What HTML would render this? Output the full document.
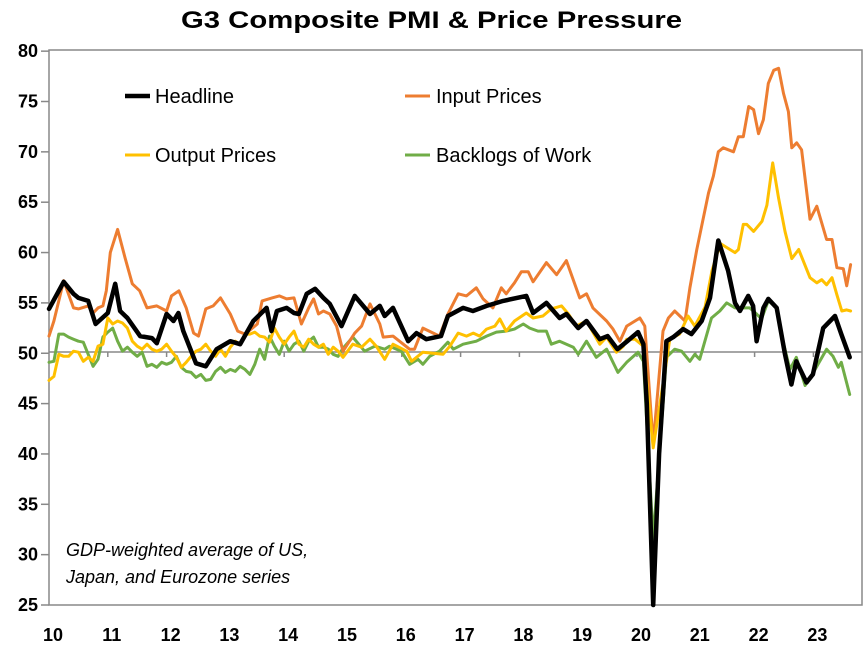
<!DOCTYPE html>
<html><head><meta charset="utf-8"><style>
body{margin:0;background:#fff;}
svg{display:block;font-family:"Liberation Sans",Arial,sans-serif;}
</style></head><body>
<svg id="s" width="868" height="646" viewBox="0 0 868 646">
<rect x="0" y="0" width="868" height="646" fill="#fff"/>
<text x="181" y="28" font-size="24" font-weight="bold" textLength="501" lengthAdjust="spacingAndGlyphs">G3 Composite PMI &amp; Price Pressure</text>
<g id="axes" stroke="#888" stroke-width="1.5" fill="none">
<rect x="49" y="50" width="813" height="555"/>
<line x1="49" y1="352" x2="862" y2="352"/>
</g>
<g id="ylab" font-size="18" font-weight="bold" text-anchor="end"></g>
<g id="xlab" font-size="18" font-weight="bold" text-anchor="middle"></g>
<g id="lines" fill="none" stroke-linejoin="round" stroke-linecap="round"></g>
<g font-size="20">
<line x1="125" y1="96" x2="150" y2="96" stroke="#000" stroke-width="4.5"/><text x="155" y="103">Headline</text>
<line x1="405" y1="96" x2="430" y2="96" stroke="#ED7D31" stroke-width="3"/><text x="436" y="103">Input Prices</text>
<line x1="125" y1="155" x2="150" y2="155" stroke="#FFC000" stroke-width="3"/><text x="155" y="162">Output Prices</text>
<line x1="405" y1="155" x2="430" y2="155" stroke="#70AD47" stroke-width="3"/><text x="436" y="162">Backlogs of Work</text>
</g>
<g font-size="18" font-style="italic">
<text x="66" y="556">GDP-weighted average of US,</text>
<text x="66" y="583">Japan, and Eurozone series</text>
</g>
</svg>
<script>
var NS="http://www.w3.org/2000/svg";
function X(m){return 49+4.9*m;}
function Y(v){return 605-(v-25)*10.07;}
function el(t,a,p,txt){var e=document.createElementNS(NS,t);for(var k in a)e.setAttribute(k,a[k]);if(txt!==undefined)e.textContent=txt;p.appendChild(e);return e;}
var ax=document.getElementById('axes'),yl=document.getElementById('ylab'),xl=document.getElementById('xlab');
for(var v=25;v<=80;v+=5){var y=Y(v);el('line',{x1:41,y1:y,x2:49,y2:y},ax);el('text',{x:38,y:y+6},yl,String(v));}
for(var i=0;i<14;i++){var x=X(i*12);if(i>0)el('line',{x1:x,y1:352,x2:x,y2:357},ax);el('text',{x:x+4,y:641},xl,String(10+i));}
var H=[[0,54.4],[3,57.1],[5,55.9],[6,55.5],[8,55.2],[9.5,52.9],[12,54],[13.5,56.9],[14.5,54.2],[16,53.5],[18.6,51.7],[21,51.5],[22,51],[24,53.9],[25.4,53.2],[26.4,54],[27.4,52.2],[30,49],[32,48.7],[34.2,50.4],[37,51.2],[39,50.9],[41.7,53.2],[44.4,54.5],[45.4,52.2],[46.5,54.2],[48.5,54.5],[50,54],[51,53.9],[52.6,55.9],[54.3,56.4],[56,55.5],[57.3,54.9],[59.7,52.7],[62.4,55.7],[65.5,53.9],[67.5,54.7],[68.5,53.7],[70.2,54.5],[73.3,51.2],[75,52],[77,51.4],[80,51.7],[81.4,53.7],[84.5,54.5],[86.5,54.2],[89.3,54.7],[92.7,55.2],[97.4,55.7],[98.8,54],[101.5,55],[104.2,53.5],[105.6,53.9],[108,52.5],[109.7,53.2],[112.4,51.4],[114,51.7],[116,50.4],[118,51.2],[120.2,52.1],[121.3,50.9],[122,45],[123.3,24.3],[124.5,40],[126,51.2],[127.4,51.6],[129.4,52.4],[131.1,51.9],[133.2,53.2],[134.9,55.5],[136.6,61.2],[138.6,58.2],[140,55],[141,54.2],[142.7,55.7],[143.7,54.7],[144.4,51.2],[145.8,54.5],[146.8,55.4],[148.5,54.5],[150.2,49.9],[151.5,46.9],[152.5,49.2],[154.6,47.1],[155.9,47.9],[158,52.5],[160.4,53.7],[161.7,51.9],[163.4,49.6]];
var O=[[0,51.7],[1,53.2],[3,57.2],[5,54.5],[6,54.4],[8,54.7],[9,54],[10,54.5],[11,54.7],[11.7,56.2],[12.5,60],[14,62.3],[15.5,59.5],[17,56.9],[18.5,56.2],[20,54.5],[22,54.7],[24,54.2],[25,55.7],[26.5,56.2],[28,54.5],[29.5,52],[30.5,51.7],[32,54.4],[33.5,54.7],[35,55.5],[37,53.9],[38.5,52.2],[40,51.9],[41.5,52.5],[42.5,52.9],[43.5,55.2],[45.5,55.5],[47,55.7],[48.5,55.4],[50,55.5],[51.5,52.9],[53,54.5],[54,55.4],[55,53.9],[56,54.2],[57.3,53.9],[58.7,52.7],[60,50.2],[62.4,52],[63.8,52.7],[65.5,54.9],[67.5,52.9],[68.2,51.6],[70.2,51.7],[73.6,50.4],[74.6,50.4],[76.3,52.5],[79.7,51.7],[81.4,53.9],[83.5,55.9],[85.2,55.7],[87.2,56.5],[88.6,55.4],[90.6,54.5],[92.3,56.5],[93.3,55.9],[95,57],[96.4,58.1],[97.8,58.1],[98.8,57.1],[101.5,59],[103.6,57.8],[105.6,59.2],[108.3,55.5],[109.7,55.9],[111,54.5],[113.8,53.2],[115.1,52.4],[116.5,51.2],[117.9,52.7],[120.6,53.5],[121.6,52.7],[123.3,41],[125.3,52.2],[126.4,53.5],[127.7,54.2],[129.8,53.2],[130.8,56.5],[132.2,60.3],[134.6,65.9],[135.6,67.6],[136.6,70],[137.6,70.4],[139.7,70],[140.7,71.5],[141.7,71.5],[142.8,74.5],[143.8,74.2],[144.8,71.8],[145.8,73.2],[146.8,76.8],[147.9,78.1],[148.9,78.3],[149.9,75.8],[150.9,74],[151.6,70.4],[152.6,70.9],[153.6,70.2],[155.3,63.3],[156.7,64.6],[158.7,61.3],[159.8,61.3],[160.8,58.5],[162.1,58.4],[162.8,56.7],[163.6,58.8]];
var Yv=[47.3,47.7,49.9,49.7,49.7,50.2,50.1,49.2,49.6,49.2,50.7,50.9,53.5,52.9,53.2,53,52.5,51.2,50.7,50.4,50.9,50.4,50.2,50.4,50.9,50.2,49.6,48.6,49.1,49.7,50.2,50.4,50.9,50.2,49.7,50.4,49.7,50.6,51.2,50.9,51.9,51.9,52.1,51.7,51.6,51.1,52.5,51.6,50.9,51.6,52.2,50.9,50.6,51.4,50.9,50.6,50.9,49.9,50.6,50.2];
var Yp=Yv.map(function(v,i){return [i,v];}).concat([[60,49.6],[62,50.9],[63.8,50.6],[65.5,51.4],[66.8,50.7],[68.5,49.4],[70.2,50.9],[73,50.2],[74,49.2],[76.3,50.1],[80.4,49.9],[81.8,50.7],[83.5,52],[85.2,51.7],[86.6,52],[87.9,51.7],[89.3,52.4],[91,52.7],[92,53.4],[93.3,52.2],[95,53.2],[97.4,54],[98.8,53.5],[100.8,53.7],[102.5,54.4],[104.6,54.7],[106,53.9],[107.6,52.7],[109.7,53.2],[112.4,50.9],[113.8,51.6],[115.8,50.1],[117.2,50.7],[117.9,51.4],[119.6,51.4],[121.3,50.7],[123.3,40.6],[126.7,51.4],[128.7,51.9],[130.4,53.7],[131.8,52.7],[133.9,54.6],[135.3,58.2],[137,60.9],[138.3,60.5],[140,60],[140.7,60.3],[141.7,62.8],[142.4,62.8],[143.8,62.1],[145.5,63.1],[146.5,64.7],[147.7,68.9],[148.9,65.4],[150.2,62.1],[151.6,59.4],[153,60.3],[155.3,57.5],[156.7,57],[157.7,57.3],[158.7,56.8],[159.8,57.5],[160.8,55.8],[161.8,54.2],[162.8,54.3],[163.6,54.2]]);
var Gv=[49.1,49.2,51.9,51.9,51.6,51.4,51.2,51.1,49.9,48.7,49.4,51.6,52.1,52.5,51.2,50.2,50.6,50.1,49.7,50.1,48.7,48.9,48.6,49.1,48.9,49.1,49.7,48.6,48.2,48.1,47.6,47.9,47.3,47.4,48.2,48.6,48.1,48.4,48.2,48.7,48.4,47.9,48.9,50.4,49.4,51.7,50.7,49.9,51.2,50.2,50.9,51.2,50.2,51.2,51.6,50.6,50.6,50.4,49.9,49.7];
var G=Gv.map(function(v,i){return [i,v];}).concat([[60,50.5],[62,51.6],[64.4,50.2],[66.5,50.7],[68.5,50.4],[69.5,50.7],[71.9,50.2],[73.6,48.9],[75.3,49.4],[76.3,48.9],[77.7,49.7],[79.7,50.2],[81.4,51.1],[82.5,50.4],[84.5,50.9],[87.2,51.2],[89.3,51.7],[91.3,52.1],[93.3,52.2],[95,52.4],[96.8,52.9],[98.1,52.5],[99.8,52.2],[101.5,52.2],[102.5,50.9],[104.2,51.2],[107,50.6],[108,49.9],[109.7,51.2],[111.7,49.6],[113.8,50.4],[116.1,48.1],[117.9,49.1],[120.2,50.1],[121.3,49.2],[123.3,31.5],[126,49.6],[127.7,50.4],[129.1,50.2],[130.8,49.2],[131.8,49.9],[132.8,49.4],[135.2,53.5],[136.9,54.2],[138.3,55],[140,54.5],[143,54.5],[144.4,53.9],[145.4,53.4],[146.8,55.2],[148.5,54.5],[149.8,51.2],[151.2,48.4],[152.5,49.6],[154.3,46.8],[156,48.1],[158.7,50.4],[160,49.7],[161.1,48.6],[161.7,49.1],[163.4,45.9]]);
var L=document.getElementById('lines');
function draw(pts,c,w){var d=pts.map(function(p,i){return (i?'L':'M')+X(p[0]).toFixed(1)+' '+Math.min(605,Y(p[1])).toFixed(1);}).join(' ');el('path',{d:d,stroke:c,'stroke-width':w},L);}
draw(G,'#70AD47',3);draw(O,'#ED7D31',3);draw(Yp,'#FFC000',3);draw(H,'#000',4.5);
</script>
</body></html>
